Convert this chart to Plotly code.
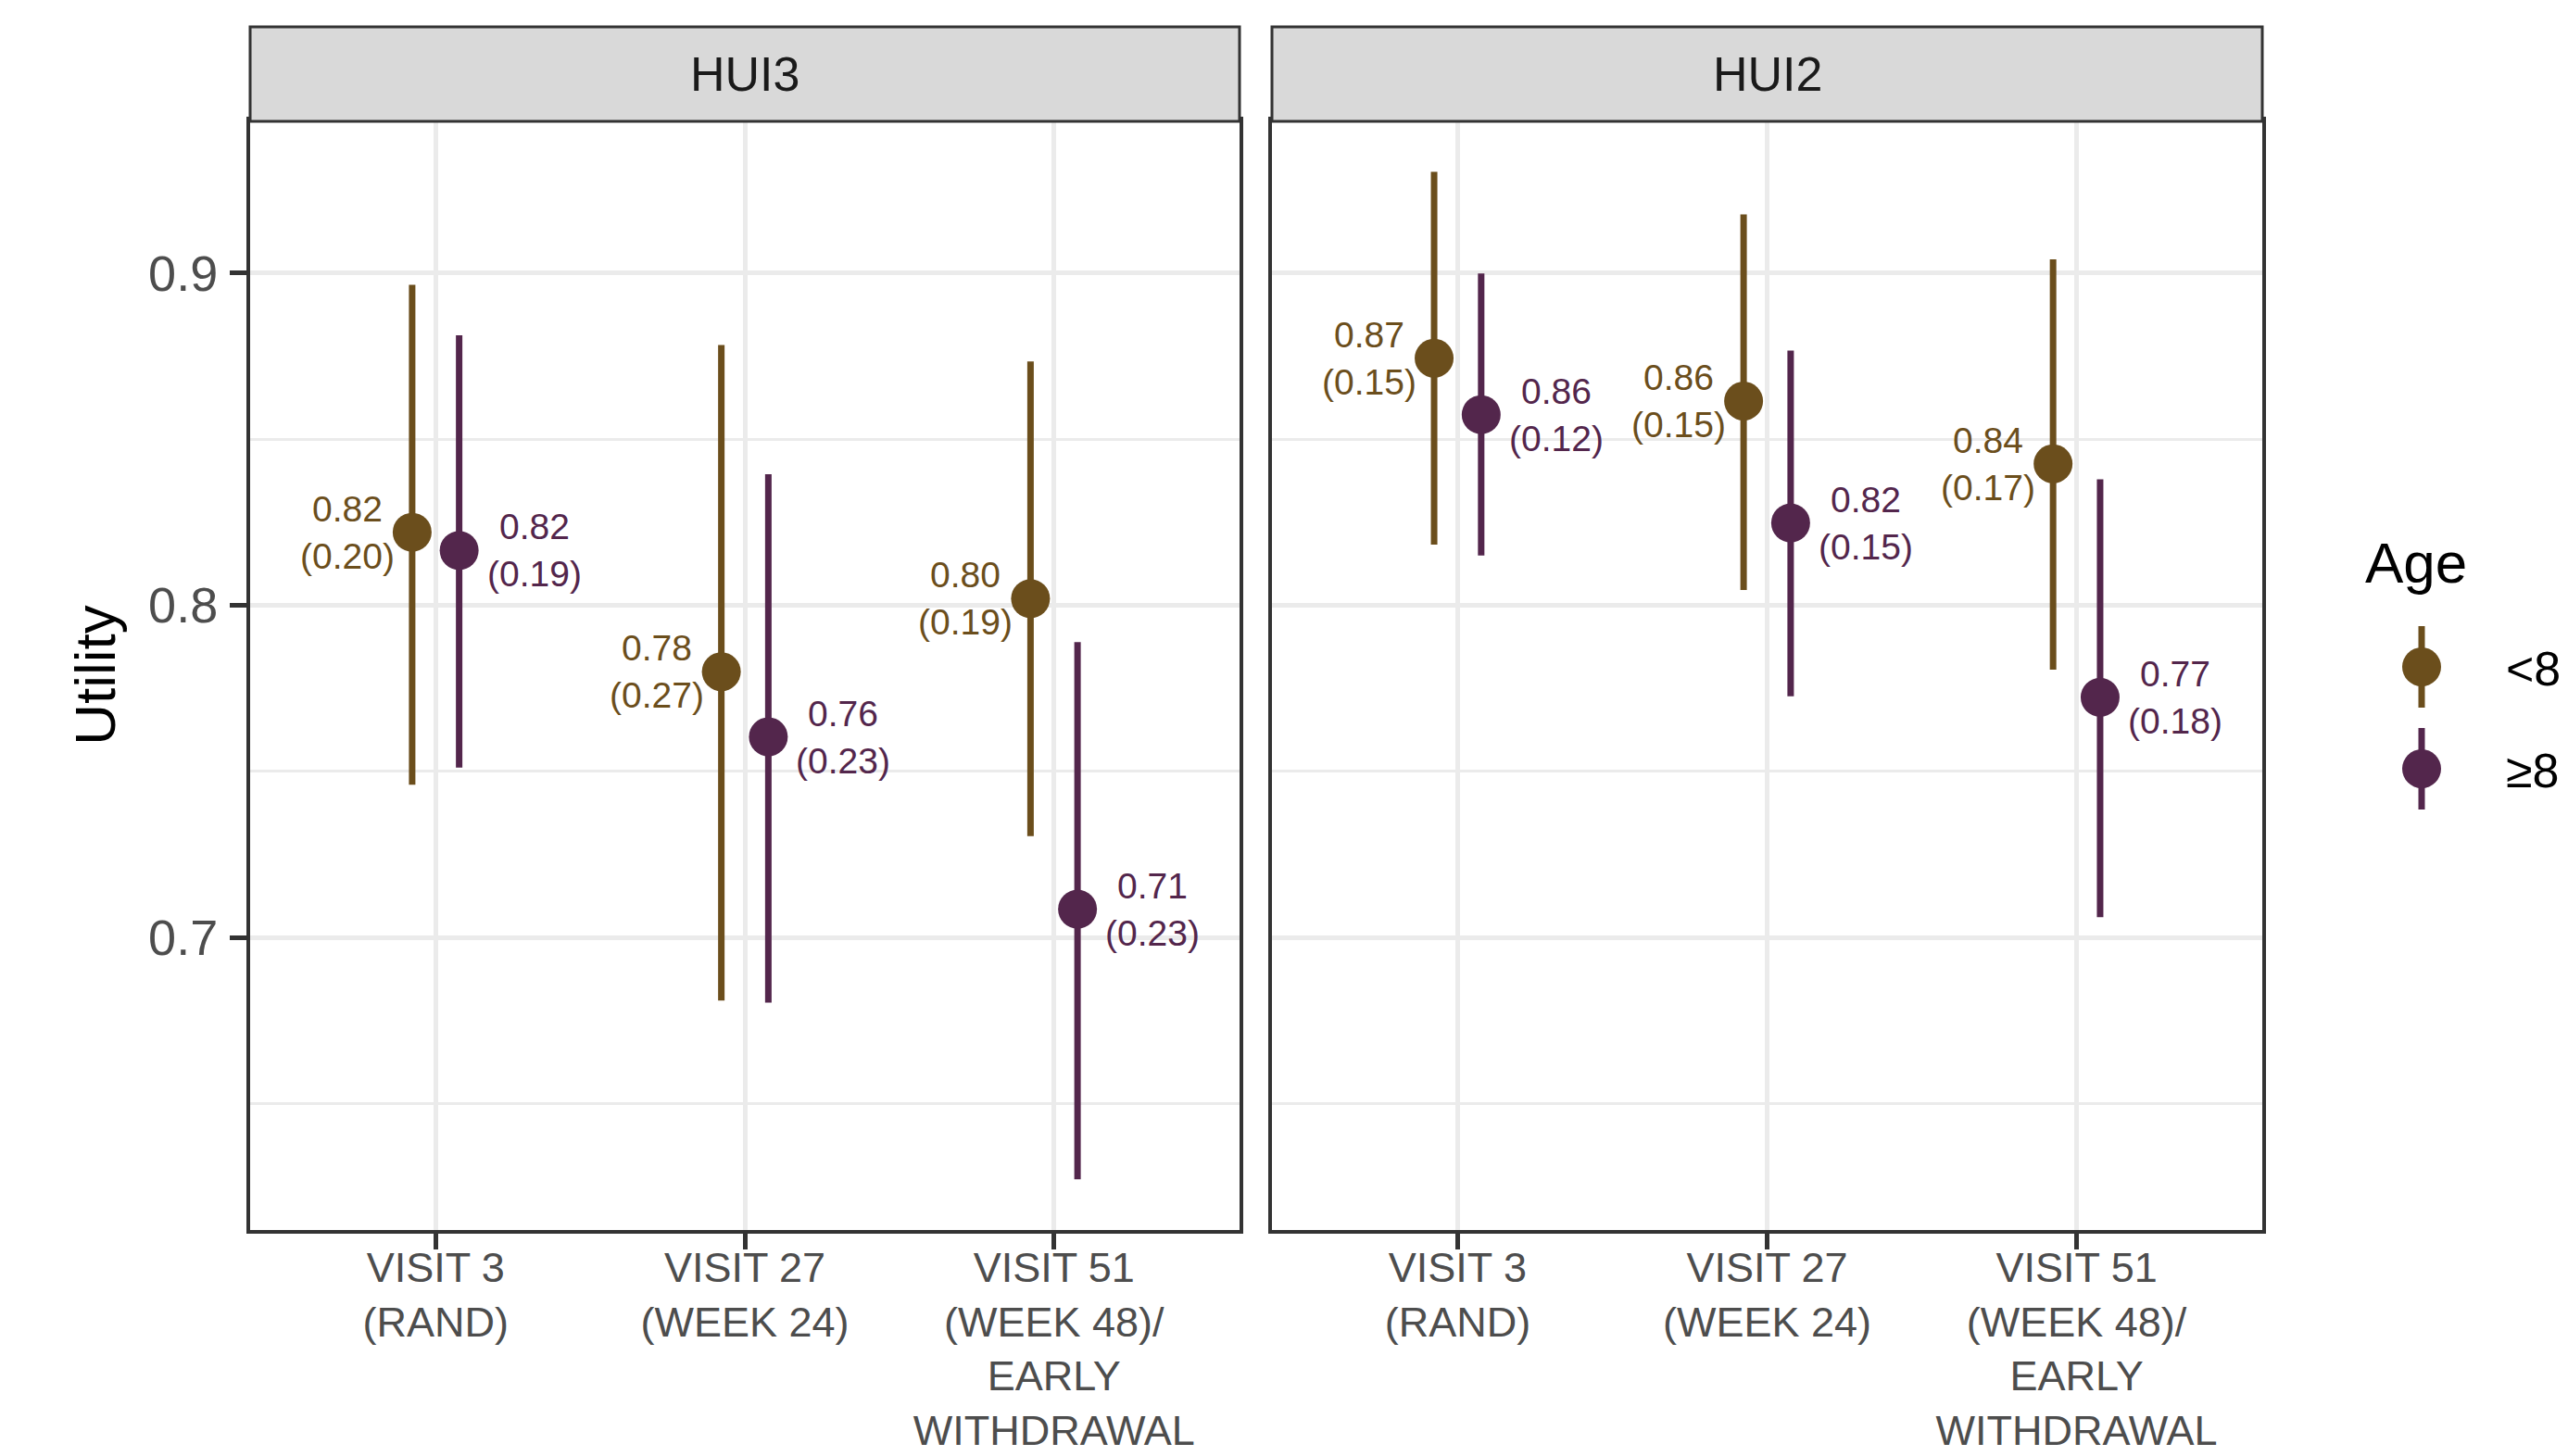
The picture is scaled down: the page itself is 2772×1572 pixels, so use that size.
import plotly.graph_objects as go

# ---------------- data ----------------
visits = ["VISIT 3<br>(RAND)", "VISIT 27<br>(WEEK 24)",
          "VISIT 51<br>(WEEK 48)/<br>EARLY<br>WITHDRAWAL"]
panels = ["HUI3", "HUI2"]
groups = ["<8", "≥8"]

hui3_lt8_mean = [0.822, 0.780, 0.802]
hui3_lt8_low = [0.746, 0.681, 0.7305]
hui3_lt8_high = [0.8965, 0.8784, 0.8734]
hui3_lt8_sd = [0.20, 0.27, 0.19]

hui3_ge8_mean = [0.8165, 0.7604, 0.7085]
hui3_ge8_low = [0.7511, 0.6804, 0.6272]
hui3_ge8_high = [0.8813, 0.8395, 0.7889]
hui3_ge8_sd = [0.19, 0.23, 0.23]

hui2_lt8_mean = [0.8744, 0.8615, 0.8426]
hui2_lt8_low = [0.8183, 0.8046, 0.7806]
hui2_lt8_high = [0.9305, 0.9177, 0.9042]
hui2_lt8_sd = [0.15, 0.15, 0.17]

hui2_ge8_mean = [0.8574, 0.8248, 0.7723]
hui2_ge8_low = [0.8150, 0.7726, 0.7061]
hui2_ge8_high = [0.8999, 0.8767, 0.8379]
hui2_ge8_sd = [0.12, 0.15, 0.18]

y_ticks = [0.7, 0.8, 0.9]

# ---------------- styling ----------------
PAGE_MARGIN = 8            # default body margin of the html page
W, H = 2772 - PAGE_MARGIN, 1572 - PAGE_MARGIN
FONT = "Liberation Sans, Arial, sans-serif"
colors = {"<8": "#6B4E1C", "≥8": "#53264C"}
dodge = {"<8": -0.076, "≥8": 0.076}
label_anchor = {"<8": ("right", -18), "≥8": ("left", 29)}

data = {
    "HUI3": {
        "<8": (hui3_lt8_mean, hui3_lt8_low, hui3_lt8_high, hui3_lt8_sd),
        "≥8": (hui3_ge8_mean, hui3_ge8_low, hui3_ge8_high, hui3_ge8_sd),
    },
    "HUI2": {
        "<8": (hui2_lt8_mean, hui2_lt8_low, hui2_lt8_high, hui2_lt8_sd),
        "≥8": (hui2_ge8_mean, hui2_ge8_low, hui2_ge8_high, hui2_ge8_sd),
    },
}

def px_x(p):
    return (p - PAGE_MARGIN) / W

def px_y(p):
    return 1 - (p - PAGE_MARGIN) / H

x_domains = [[px_x(270), px_x(1338)], [px_x(1373), px_x(2442)]]
y_domain = [px_y(1328), px_y(130)]
y_range = [0.6119, 0.9460]
x_range = [0.4, 3.6]
cat_pos = list(range(1, len(visits) + 1))

fig = go.Figure()
annotations = []
shapes = []

axis_names = [("x", "y"), ("x2", "y2")]
for pi, panel in enumerate(panels):
    xa, ya = axis_names[pi]
    for g in groups:
        mean, low, high, sd = data[panel][g]
        xs = [c + dodge[g] for c in cat_pos]
        fig.add_trace(go.Scatter(
            x=xs, y=mean, mode="markers", xaxis=xa, yaxis=ya,
            name=g, showlegend=False,
            marker=dict(size=42, color=colors[g], line=dict(width=0)),
            error_y=dict(type="data", symmetric=False,
                         array=[h - m for h, m in zip(high, mean)],
                         arrayminus=[m - l for m, l in zip(mean, low)],
                         width=0, thickness=7, color=colors[g]),
        ))
        anc, shift = label_anchor[g]
        for xv, m, s in zip(xs, mean, sd):
            annotations.append(dict(
                x=xv, y=m, xref=xa, yref=ya, text=f"{m:.2f}<br>({s:.2f})",
                showarrow=False, xanchor=anc, yanchor="middle", xshift=shift,
                align="center", borderpad=0,
                font=dict(family=FONT, size=39, color=colors[g]),
            ))
    # strip
    shapes.append(dict(type="rect", xref="paper", yref="paper",
                       x0=x_domains[pi][0], x1=x_domains[pi][1],
                       y0=px_y(131), y1=px_y(29),
                       fillcolor="#D9D9D9", line=dict(color="#333333", width=3),
                       layer="above"))
    annotations.append(dict(
        x=(x_domains[pi][0] + x_domains[pi][1]) / 2, y=px_y(80),
        xref="paper", yref="paper", text=panel, showarrow=False,
        xanchor="center", yanchor="middle",
        font=dict(family=FONT, size=52, color="#1A1A1A")))

# custom legend (ggplot style keys: point with vertical line)
for i, g in enumerate(groups):
    fig.add_trace(go.Scatter(
        x=[0], y=[-i], mode="markers", xaxis="x3", yaxis="y3", showlegend=False,
        hoverinfo="skip",
        marker=dict(size=42, color=colors[g], line=dict(width=0)),
        error_y=dict(type="constant", value=0.4, width=0, thickness=7,
                     color=colors[g]),
    ))
    annotations.append(dict(x=px_x(2703), y=px_y(722 + 110 * i), xref="paper",
                            yref="paper", text=g, showarrow=False, xanchor="left",
                            yanchor="middle",
                            font=dict(family=FONT, size=52, color="#000000")))
annotations.append(dict(x=px_x(2551), y=px_y(607), xref="paper", yref="paper",
                        text="Age", showarrow=False, xanchor="left", yanchor="middle",
                        font=dict(family=FONT, size=62, color="#000000")))

common_x = dict(range=x_range, tickvals=cat_pos, ticktext=visits,
                showgrid=True, gridcolor="#EBEBEB", gridwidth=5, zeroline=False,
                showline=True, mirror=True, linecolor="#333333", linewidth=4,
                ticks="outside", ticklen=17, tickwidth=5, tickcolor="#333333",
                ticklabelstandoff=-19, automargin=False,
                tickfont=dict(family=FONT, size=45, color="#4D4D4D"),
                fixedrange=True)
common_y = dict(range=y_range, domain=y_domain, tickvals=y_ticks,
                showgrid=True, gridcolor="#EBEBEB", gridwidth=5, zeroline=False,
                minor=dict(dtick=0.05, tick0=0.65, showgrid=True,
                           gridcolor="#EBEBEB", gridwidth=2.5),
                showline=True, mirror=True, linecolor="#333333", linewidth=4,
                automargin=False, fixedrange=True)

fig.update_layout(
    width=W, height=H, margin=dict(l=0, r=0, t=0, b=0, autoexpand=False),
    paper_bgcolor="white", plot_bgcolor="white",
    showlegend=False,
    font=dict(family=FONT),
    xaxis=dict(domain=x_domains[0], anchor="y", **common_x),
    xaxis2=dict(domain=x_domains[1], anchor="y2", **common_x),
    yaxis=dict(anchor="x", ticks="outside", ticklen=18, tickwidth=5,
               tickcolor="#333333", ticklabelstandoff=2,
               tickfont=dict(family=FONT, size=54, color="#4D4D4D"),
               title=dict(text="Utility", standoff=16,
                          font=dict(family=FONT, size=62, color="#000000")),
               **common_y),
    yaxis2=dict(anchor="x2", matches="y", showticklabels=False, ticks="",
                **common_y),
    xaxis3=dict(domain=[px_x(2564), px_x(2664)], anchor="y3", range=[-1, 1],
                visible=False, fixedrange=True, automargin=False),
    yaxis3=dict(domain=[px_y(940), px_y(610)], anchor="x3", range=[-2, 1],
                visible=False, fixedrange=True, automargin=False),
    annotations=annotations,
    shapes=shapes,
)

fig.write_html("out.html")
